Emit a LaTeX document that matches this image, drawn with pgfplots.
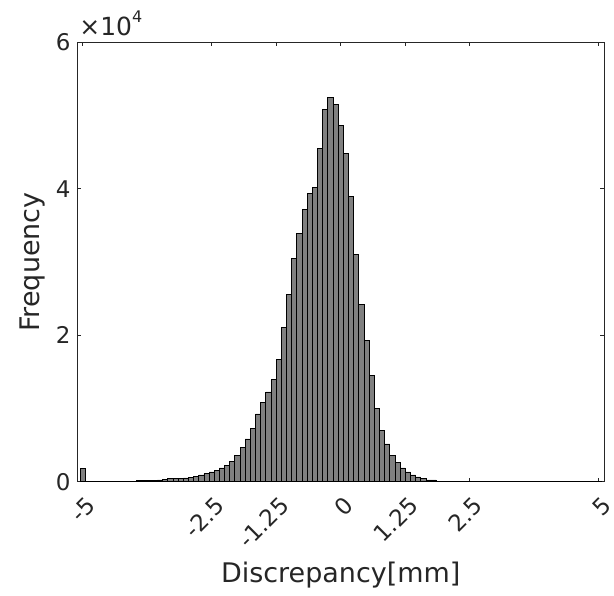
\documentclass[border=0pt]{standalone}
\usepackage{fontspec}
\setmainfont{DejaVu Sans}
\usepackage{pgfplots}
\pgfplotsset{compat=1.18}

\definecolor{axgray}{RGB}{38,38,38}
\definecolor{barfill}{RGB}{128,128,128}

\begin{document}
\begin{tikzpicture}
\begin{axis}[
  scale only axis, width=263.5pt, height=220pt,
  clip mode=individual,
  xmin=-5.1, xmax=5.1, ymin=0, ymax=60000,
  xtick={-5,-2.5,-1.25,0,1.25,2.5,5},
  xticklabels={-5,-2.5,-1.25,0,1.25,2.5,5},
  ytick={0,20000,40000,60000}, yticklabels={0,2,4,6},
  scaled y ticks=false,
  tick align=inside, xtick pos=both, ytick pos=both,
  major tick length=2pt,
  axis line style={axgray, line width=0.5pt},
  tick style={axgray, line width=0.5pt},
  /pgf/number format/assume math mode=true,
  tick label style={font=\fontsize{11.5}{13}\selectfont, text=axgray},
  xticklabel style={inner sep=0pt, xshift=1.2pt, yshift=-6.5pt, rotate=45, anchor=north east},
  xlabel={Discrepancy[mm]}, ylabel={Frequency},
  label style={font=\fontsize{13.5}{16}\selectfont, text=axgray},
  xlabel style={at={(axis description cs:0.5,0)}, anchor=base, yshift=-50.5pt},
  ylabel style={at={(axis description cs:0,0.5)}, anchor=center, yshift=22.75pt},
]
\addplot[ybar, bar width=0.1, fill=barfill, draw=black, line width=0.4pt]
coordinates {
(-5.0,1810)(-4.9,30)(-4.8,30)(-4.7,30)(-4.6,30)(-4.5,30)(-4.4,30)(-4.3,30)
(-4.2,30)(-4.1,30)(-4.0,40)(-3.9,150)(-3.8,220)(-3.7,230)(-3.6,250)(-3.5,270)
(-3.4,300)(-3.3,410)(-3.2,420)(-3.1,500)(-3.0,545)(-2.9,630)(-2.8,700)
(-2.7,950)(-2.6,1130)(-2.5,1360)(-2.4,1540)(-2.3,1910)(-2.2,2220)(-2.1,2770)
(-2.0,3550)(-1.9,4640)(-1.8,5860)(-1.7,7310)(-1.6,9270)(-1.5,10860)
(-1.4,12270)(-1.3,13950)(-1.2,16770)(-1.1,21130)(-1.0,25540)(-0.9,30450)
(-0.8,33950)(-0.7,37230)(-0.6,39360)(-0.5,40230)(-0.4,45550)(-0.3,50770)
(-0.2,52500)(-0.1,51550)(0.0,48680)(0.1,44860)(0.2,38950)(0.3,31090)
(0.4,24270)(0.5,19310)(0.6,14500)(0.7,10000)(0.8,7000)(0.9,5180)(1.0,3550)
(1.1,2680)(1.2,1910)(1.3,1360)(1.4,950)(1.5,680)(1.6,410)(1.7,270)(1.8,270)
(1.9,100)(2.0,40)(2.1,30)(2.2,30)(2.3,30)(2.4,30)(2.5,30)(2.6,30)(2.7,30)
(2.8,30)(2.9,30)(3.0,30)(3.1,30)(3.2,30)(3.3,30)(3.4,30)(3.5,30)(3.6,30)
(3.7,30)(3.8,30)(3.9,30)(4.0,30)(4.1,30)(4.2,30)(4.3,30)(4.4,30)(4.5,30)
(4.6,30)(4.7,30)(4.8,30)(4.9,30)(5.0,30)
};
\node[anchor=base west, inner sep=0pt, xshift=0.75pt, yshift=3.6pt,
  text=axgray, font=\fontsize{12.5}{14}\selectfont]
  at (axis description cs:0,1) {×10\raisebox{6.2pt}{\fontsize{8}{9}\selectfont 4}};
\coordinate (bl) at (axis description cs:0,0);
\coordinate (tr) at (axis description cs:1,1);
\end{axis}
\path ([shift={(-38.75pt,-54.35pt)}]bl) rectangle ([shift={(5pt,21.15pt)}]tr);
\end{tikzpicture}
\end{document}
